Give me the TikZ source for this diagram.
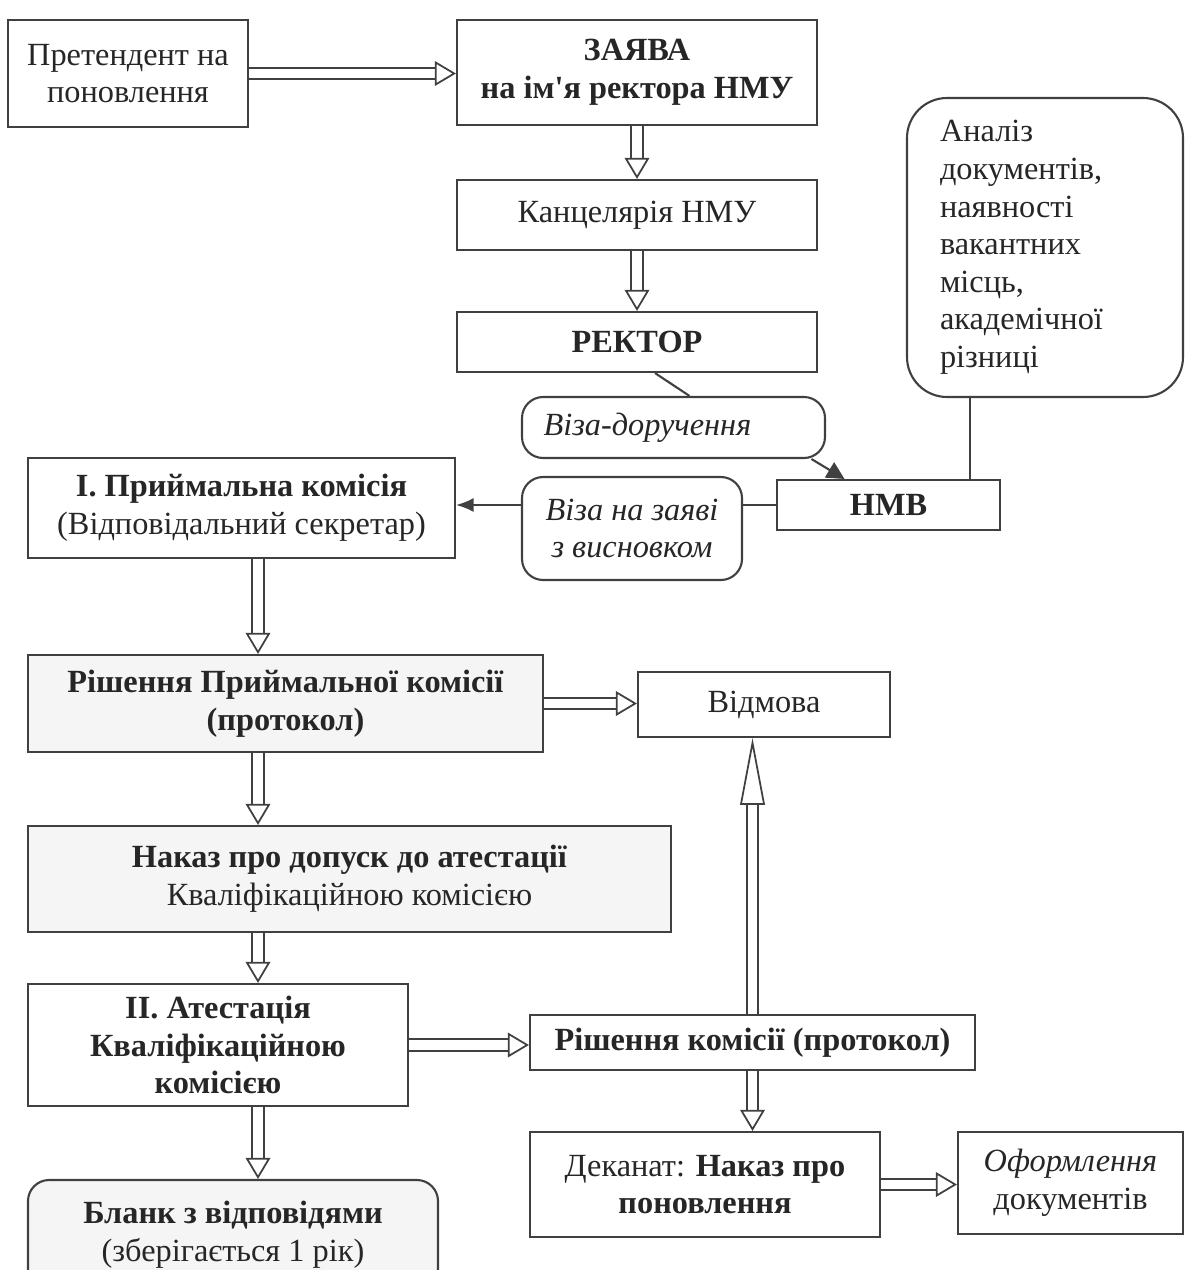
\documentclass[tikz,border=0pt]{standalone}
\usepackage{fontspec}
\setmainfont{Liberation Serif}
\usetikzlibrary{arrows.meta}

\begin{document}
\begin{tikzpicture}[
    box/.style={draw=black!75, line width=0.6pt, align=center, inner sep=2pt,
        font=\fontsize{9.2}{10.7}\selectfont, text=black!85},
    rbox/.style={box, rounded corners=6pt},
    greyfill/.style={fill=black!4},
    conn/.style={draw=black!75, line width=0.6pt},
    dbl/.style={draw=black!75, line width=0.5pt, double=white, double distance=2.8pt,
        -{Triangle[open, fill=white, length=6pt, width=7pt, line width=0.5pt]}},
    dbllong/.style={dbl, -{Triangle[open, fill=white, length=19pt, width=7pt, line width=0.5pt]}}
]
    \useasboundingbox (0,0) rectangle (11.86,-12.7);

    \node[box, minimum width=2.40cm, minimum height=1.07cm] (pret) at (1.28,-0.735) {Претендент на\\поновлення};
    \node[box, minimum width=3.60cm, minimum height=1.05cm] (zayava) at (6.37,-0.725) {\textbf{ЗАЯВА}\\\textbf{на ім{\textquotesingle}я ректора НМУ}};
    \node[box, minimum width=3.60cm, minimum height=0.70cm] (kanc) at (6.37,-2.15) {Канцелярія НМУ};
    \node[box, minimum width=3.60cm, minimum height=0.60cm] (rektor) at (6.37,-3.42) {\textbf{РЕКТОР}};
    \node[rbox, rounded corners=0.4cm, minimum width=2.76cm, minimum height=2.99cm, text width=2.1cm, align=left] (analiz) at (10.45,-2.475) {Аналіз\\документів,\\наявності\\вакантних\\місць,\\академічної\\різниці};
    \node[rbox, minimum width=3.03cm, minimum height=0.61cm, text width=2.6cm, align=left] (vizador) at (6.735,-4.275) {\textit{Віза-доручення}};
    \node[box, minimum width=2.23cm, minimum height=0.50cm] (nmv) at (8.885,-5.05) {\textbf{НМВ}};
    \node[rbox, minimum width=2.20cm, minimum height=1.03cm] (vizazay) at (6.32,-5.285) {\textit{Віза на заяві}\\\textit{з висновком}};
    \node[box, minimum width=4.27cm, minimum height=1.00cm] (prym) at (2.415,-5.08) {\textbf{І. Приймальна комісія}\\(Відповідальний секретар)};
    \node[box, greyfill, minimum width=5.15cm, minimum height=0.97cm] (rishpk) at (2.855,-7.035) {\textbf{Рішення Приймальної комісії}\\\textbf{(протокол)}};
    \node[box, minimum width=2.52cm, minimum height=0.65cm] (vidmova) at (7.64,-7.045) {Відмова};
    \node[box, greyfill, minimum width=6.43cm, minimum height=1.06cm] (nakaz) at (3.495,-8.79) {\textbf{Наказ про допуск до атестації}\\Кваліфікаційною комісією};
    \node[box, minimum width=3.80cm, minimum height=1.22cm] (atest) at (2.18,-10.45) {\textbf{ІІ. Атестація}\\\textbf{Кваліфікаційною}\\\textbf{комісією}};
    \node[box, minimum width=4.45cm, minimum height=0.55cm] (rishk) at (7.525,-10.425) {\textbf{Рішення комісії (протокол)}};
    \node[box, minimum width=3.50cm, minimum height=1.05cm] (dekan) at (7.05,-11.845) {Деканат: \textbf{Наказ про}\\\textbf{поновлення}};
    \node[box, minimum width=2.25cm, minimum height=1.02cm] (oform) at (10.705,-11.83) {\textit{Оформлення}\\документів};
    \node[rbox, greyfill, minimum width=4.10cm, minimum height=1.10cm] (blank) at (2.33,-12.35) {\textbf{Бланк з відповідями}\\(зберігається 1 рік)};

    \coordinate (colL) at (2.58,0);
    \coordinate (vline) at (9.70,0);

    \draw[dbl] (pret.east) -- (pret.east -| zayava.west);
    \draw[dbl] (zayava) -- (kanc);
    \draw[dbl] (kanc) -- (rektor);
    \draw[conn] ([xshift=0.18cm]rektor.south) -- ([xshift=0.16cm]vizador.north);
    \draw[conn, -{Triangle[length=5pt, width=5pt]}] ([xshift=1.38cm]vizador.south) -- ([xshift=-0.44cm]nmv.north);
    \draw[conn] (analiz.south -| vline) -- (nmv.north -| vline);
    \draw[conn] (nmv.west) -- (nmv.west -| vizazay.east);
    \draw[conn, -{Latex[length=5pt, width=4pt]}] (vizazay.west |- nmv.west) -- (prym.east |- nmv.west);
    \draw[dbl] (prym.south -| colL) -- (rishpk.north -| colL);
    \draw[dbl] (rishpk.east) -- (rishpk.east -| vidmova.west);
    \draw[dbl] (rishpk.south -| colL) -- (nakaz.north -| colL);
    \draw[dbl] (nakaz.south -| colL) -- (atest.north -| colL);
    \draw[dbl] (atest.south -| colL) -- (blank.north -| colL);
    \draw[dbl] (atest.east) -- (atest.east -| rishk.west);
    \draw[dbllong] (rishk.north) -- (rishk.north |- vidmova.south);
    \draw[dbl] (rishk.south) -- (rishk.south |- dekan.north);
    \draw[dbl] (dekan.east) -- (dekan.east -| oform.west);
\end{tikzpicture}
\end{document}
